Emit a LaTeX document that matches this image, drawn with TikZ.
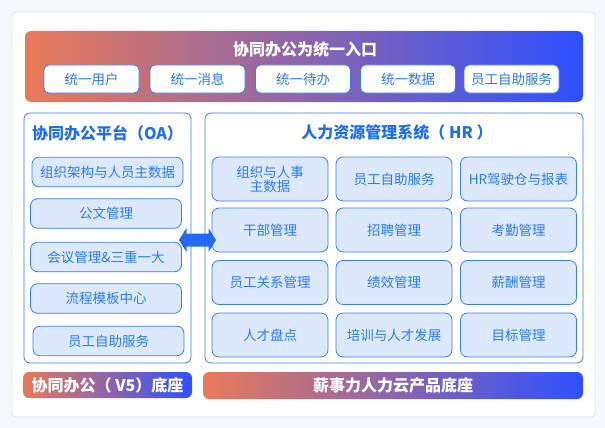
\documentclass[tikz,border=0pt]{standalone}
\usepackage{fontspec}
\setmainfont{Noto Sans CJK SC}
\definecolor{bgc}{HTML}{F6F8FC}
\definecolor{cardline}{HTML}{DCE5F5}
\definecolor{blueline}{HTML}{3A7DF2}
\definecolor{itemfill}{HTML}{DCE8FB}
\definecolor{txt}{HTML}{2C7BEE}
\definecolor{ttl}{HTML}{1F6EEA}
\definecolor{gl}{HTML}{E97A58}
\definecolor{gm}{HTML}{8E4DF2}
\definecolor{gr}{HTML}{2E50FF}
\definecolor{arrowc}{HTML}{2469F5}
\tikzset{
  btn/.style={draw=blueline, fill=white, rounded corners=5pt, line width=0.8pt, text=txt,
    font=\fontsize{13.5}{16}\selectfont, inner sep=0pt, minimum width=95pt, minimum height=28pt},
  item/.style={draw=blueline, fill=itemfill, rounded corners=7pt, line width=0.8pt, text=txt,
    font=\fontsize{13.5}{16}\selectfont, inner sep=0pt, align=center},
  litem/.style={item, minimum width=151pt, minimum height=29.5pt},
  gitem/.style={item, minimum width=116pt, minimum height=44pt},
  panel/.style={draw=blueline, fill=white, rounded corners=6pt, line width=0.8pt},
  grad/.style={rounded corners=6pt, left color=gl, middle color=gm, right color=gr, shading angle=90},
  bantext/.style={text=white, font=\bfseries\fontsize{16}{19}\selectfont, inner sep=0pt},
  ptitle/.style={text=ttl, font=\bfseries\fontsize{16}{19}\selectfont, inner sep=0pt}
}
\begin{document}
\begin{tikzpicture}[x=1pt,y=-1pt]
\useasboundingbox (0,0) rectangle (605,428);
\fill[bgc] (0,0) rectangle (605,428);
\draw[cardline, fill=white, rounded corners=4pt, line width=0.8pt] (12,12) rectangle (595,417);
% top banner
\shade[grad] (25,31) rectangle (583,102);
\node[bantext] (toptitle) at (305,49) {协同办公为统一入口};
\node[btn] (b1) at (91.5,79) {统一用户};
\node[btn] (b2) at (197.5,79) {统一消息};
\node[btn] (b3) at (303,79) {统一待办};
\node[btn] (b4) at (408,79) {统一数据};
\node[btn] (b5) at (511.5,79) {员工自助服务};
% panels
\draw[panel] (24,113) rectangle (191,363);
\draw[panel] (205,113) rectangle (583,363);
\node[ptitle] (oatitle) at (107.5,133) {协同办公平台（OA）};
\node[ptitle] (hrtitle) at (397,132) {人力资源管理系统（ HR ）};
% left items
\node[litem] (l1) at (107.5,172) {组织架构与人员主数据};
\node[litem] (l2) at (106,213.5) {公文管理};
\node[litem] (l3) at (106,257) {会议管理\&三重一大};
\node[litem] (l4) at (106,298.5) {流程模板中心};
\node[litem] (l5) at (108.5,341) {员工自助服务};
% grid items
\node[gitem] (g11) at (270,179) {组织与人事\\[-2pt]主数据};
\node[gitem] (g12) at (394,179) {员工自助服务};
\node[gitem] (g13) at (518.5,179) {HR驾驶仓与报表};
\node[gitem] (g21) at (270,230) {干部管理};
\node[gitem] (g22) at (394,230) {招聘管理};
\node[gitem] (g23) at (518.5,230) {考勤管理};
\node[gitem] (g31) at (270,282.5) {员工关系管理};
\node[gitem] (g32) at (394,282.5) {绩效管理};
\node[gitem] (g33) at (518.5,282.5) {薪酬管理};
\node[gitem] (g41) at (270,335) {人才盘点};
\node[gitem] (g42) at (394,335) {培训与人才发展};
\node[gitem] (g43) at (518.5,335) {目标管理};
% double arrow
\fill[arrowc] (179,240) -- (186.5,228) -- (186.5,233.5) -- (208.5,233.5) -- (208.5,228) -- (216,240)
  -- (208.5,252) -- (208.5,246.5) -- (186.5,246.5) -- (186.5,252) -- cycle;
% bottom banners
\shade[grad] (23,372) rectangle (192,398);
\node[bantext] (oabase) at (107.5,385) {协同办公（ V5）底座};
\shade[grad] (203,372) rectangle (583,399);
\node[bantext] (hrbase) at (393,385.5) {薪事力人力云产品底座};
\end{tikzpicture}
\end{document}
